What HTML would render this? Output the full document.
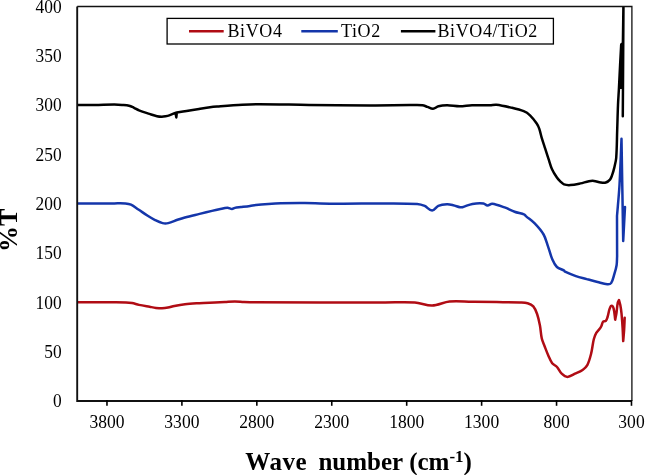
<!DOCTYPE html>
<html><head><meta charset="utf-8"><style>
html,body{margin:0;padding:0;background:#fff;}
body{width:645px;height:475px;overflow:hidden;}
svg{display:block;-webkit-font-smoothing:antialiased;will-change:transform;}
.t{font-family:"Liberation Serif",serif;font-size:18.5px;fill:#000;}
.lg{font-family:"Liberation Serif",serif;font-size:18px;fill:#000;letter-spacing:0.6px;}
.ax{font-family:"Liberation Serif",serif;font-size:25px;font-weight:bold;fill:#000;}
</style></head><body>
<svg width="645" height="475" viewBox="0 0 645 475" xmlns="http://www.w3.org/2000/svg">
<defs><clipPath id="c"><rect x="77" y="6.3" width="555" height="395"/></clipPath></defs>
<g clip-path="url(#c)" fill="none" stroke-linejoin="round" stroke-linecap="round" stroke-width="2.5">
<path d="M77.00,302.20 C89.40,302.20 101.80,302.15 114.20,302.20 C118.13,302.22 122.07,302.20 126.00,302.40 C128.01,302.50 130.02,302.72 132.00,303.10 C134.37,303.55 136.64,304.40 139.00,304.90 C142.51,305.64 146.06,306.18 149.60,306.80 C151.73,307.18 153.85,307.64 156.00,307.90 C157.99,308.14 160.00,308.35 162.00,308.30 C164.01,308.25 166.02,307.98 168.00,307.60 C170.17,307.18 172.24,306.33 174.40,305.90 C177.91,305.20 181.44,304.59 185.00,304.20 C189.72,303.69 194.46,303.48 199.20,303.20 C204.46,302.88 209.73,302.67 215.00,302.40 C218.33,302.23 221.67,302.07 225.00,301.90 C228.30,301.73 231.60,301.38 234.90,301.40 C237.94,301.42 240.96,301.86 244.00,302.00 C247.66,302.16 251.33,302.29 255.00,302.30 C298.33,302.42 341.67,302.37 385.00,302.40 C394.93,302.41 404.89,301.73 414.80,302.40 C420.65,302.80 426.24,305.74 432.10,305.60 C438.05,305.46 443.58,302.17 449.50,301.60 C456.90,300.89 464.37,301.72 471.80,301.80 C480.10,301.89 488.40,301.98 496.70,302.10 C504.47,302.21 512.24,302.22 520.00,302.50 C522.54,302.59 525.16,302.48 527.60,303.20 C529.69,303.81 531.86,304.76 533.30,306.40 C535.17,308.53 536.17,311.33 537.10,314.00 C538.38,317.66 539.17,321.49 539.90,325.30 C540.74,329.70 540.82,334.23 541.80,338.60 C542.39,341.23 543.63,343.68 544.60,346.20 C545.83,349.38 547.01,352.59 548.40,355.70 C549.54,358.26 550.50,360.97 552.20,363.20 C553.44,364.82 555.63,365.49 557.00,367.00 C558.83,369.02 559.72,371.82 561.70,373.70 C563.28,375.20 565.22,376.90 567.40,376.90 C570.15,376.90 572.50,374.85 575.00,373.70 C577.57,372.52 580.28,371.52 582.60,369.90 C584.44,368.62 586.25,367.08 587.30,365.10 C589.16,361.59 590.13,357.65 591.10,353.80 C592.30,349.00 592.61,344.00 593.80,339.20 C594.35,337.01 595.19,334.87 596.30,332.90 C597.11,331.46 598.52,330.43 599.50,329.10 C600.22,328.13 600.87,327.09 601.40,326.00 C602.11,324.55 602.14,322.72 603.20,321.50 C603.78,320.83 605.20,321.56 605.80,320.90 C606.87,319.71 607.22,318.02 607.70,316.50 C608.49,314.01 608.69,311.35 609.60,308.90 C610.04,307.73 610.45,305.80 611.70,305.80 C612.93,305.80 613.40,307.71 613.70,308.90 C614.59,312.42 614.70,316.10 615.20,319.70 C615.63,317.37 616.14,315.05 616.50,312.70 C617.01,309.34 617.14,305.93 617.80,302.60 C617.98,301.69 618.60,300.93 619.00,300.10 C619.43,301.77 619.98,303.41 620.30,305.10 C620.81,307.81 621.22,310.55 621.50,313.30 C621.99,318.16 622.30,323.03 622.60,327.90 C622.87,332.30 623.00,336.70 623.20,341.10 C623.50,337.53 623.87,333.97 624.10,330.40 C624.37,326.20 624.50,322.00 624.70,317.80" stroke="#b00c14"/>
<path d="M77.00,203.40 C89.40,203.40 101.80,203.37 114.20,203.40 C117.93,203.41 121.68,203.21 125.40,203.50 C127.30,203.65 129.27,203.90 131.00,204.70 C133.67,205.93 135.95,207.87 138.40,209.50 C141.52,211.57 144.54,213.79 147.70,215.80 C150.11,217.33 152.54,218.84 155.10,220.10 C157.52,221.28 159.98,222.50 162.60,223.10 C164.42,223.52 166.38,223.50 168.20,223.10 C171.41,222.39 174.38,220.85 177.50,219.80 C179.95,218.98 182.40,218.17 184.90,217.50 C189.77,216.20 194.70,215.09 199.60,213.90 C203.73,212.89 207.86,211.87 212.00,210.90 C214.43,210.33 216.86,209.79 219.30,209.30 C221.99,208.76 224.65,207.86 227.40,207.80 C228.98,207.76 230.42,208.98 232.00,209.00 C233.00,209.01 233.82,208.11 234.80,207.90 C236.84,207.47 238.93,207.37 241.00,207.10 C244.00,206.71 247.01,206.34 250.00,205.90 C252.01,205.61 253.98,205.12 256.00,204.90 C260.12,204.45 264.26,204.17 268.40,203.90 C272.53,203.63 276.66,203.39 280.80,203.30 C288.87,203.12 296.93,203.04 305.00,203.10 C315.57,203.18 326.13,203.66 336.70,203.70 C352.80,203.76 368.90,203.36 385.00,203.40 C395.73,203.43 406.49,203.23 417.20,203.90 C419.78,204.06 422.33,204.85 424.70,205.90 C427.36,207.08 429.20,210.50 432.10,210.50 C434.67,210.50 435.92,206.89 438.30,205.90 C441.02,204.77 444.05,204.44 447.00,204.30 C449.09,204.20 451.16,204.75 453.20,205.20 C455.51,205.71 457.69,206.70 460.00,207.20 C460.78,207.37 461.63,207.41 462.40,207.20 C465.79,206.30 468.95,204.52 472.40,203.90 C476.05,203.24 479.82,203.01 483.50,203.40 C485.00,203.56 485.99,205.45 487.50,205.50 C489.18,205.56 490.53,203.51 492.20,203.70 C496.49,204.18 500.54,205.95 504.60,207.40 C508.02,208.62 511.19,210.47 514.60,211.70 C517.83,212.87 521.30,213.35 524.50,214.60 C525.14,214.85 525.38,215.65 525.90,216.10 C528.79,218.59 532.06,220.65 534.70,223.40 C537.99,226.82 541.22,230.40 543.60,234.50 C545.71,238.13 546.61,242.34 548.00,246.30 C549.54,250.71 550.56,255.31 552.40,259.60 C553.54,262.25 554.79,265.03 556.90,267.00 C558.88,268.85 561.85,269.24 564.20,270.60 C564.59,270.83 564.59,271.51 565.00,271.70 C568.55,273.37 572.19,274.84 575.90,276.10 C579.44,277.31 583.09,278.12 586.70,279.10 C590.33,280.09 593.95,281.10 597.60,282.00 C600.82,282.80 604.00,283.93 607.30,284.20 C608.61,284.31 610.35,284.19 611.10,283.10 C612.95,280.42 613.44,277.01 614.40,273.90 C615.28,271.04 616.14,268.16 616.60,265.20 C617.05,262.33 616.93,259.40 617.10,256.50 C617.07,243.00 617.03,229.50 617.00,216.00 C617.83,205.67 618.90,195.35 619.50,185.00 C620.40,169.61 620.83,154.20 621.50,138.80 C622.07,172.87 622.63,206.93 623.20,241.00 C623.80,229.67 624.40,218.33 625.00,207.00" stroke="#1436aa"/>
<path d="M77.00,105.10 C83.00,105.07 89.00,105.10 95.00,105.00 C101.40,104.90 107.80,104.52 114.20,104.50 C116.80,104.49 119.40,104.69 122.00,104.90 C124.37,105.09 126.78,105.14 129.10,105.70 C130.83,106.12 132.39,107.04 134.00,107.80 C135.70,108.61 137.25,109.71 139.00,110.40 C142.40,111.75 145.92,112.78 149.40,113.90 C151.92,114.71 154.42,115.62 157.00,116.20 C158.57,116.55 160.19,116.68 161.80,116.70 C163.04,116.71 164.28,116.51 165.50,116.30 C166.78,116.08 168.07,115.83 169.30,115.40 C171.42,114.66 173.43,113.67 175.50,112.80 C175.77,114.33 176.03,115.87 176.30,117.40 C176.47,115.80 176.63,114.20 176.80,112.60 C180.07,112.03 183.33,111.45 186.60,110.90 C190.73,110.21 194.86,109.55 199.00,108.90 C202.66,108.32 206.32,107.69 210.00,107.20 C212.32,106.89 214.66,106.68 217.00,106.50 C225.43,105.85 233.86,105.16 242.30,104.70 C248.06,104.39 253.83,104.18 259.60,104.20 C276.07,104.25 292.53,104.72 309.00,104.90 C329.33,105.12 349.67,105.36 370.00,105.40 C383.33,105.43 396.67,105.15 410.00,105.10 C414.13,105.08 418.29,104.77 422.40,105.20 C424.15,105.38 425.73,106.33 427.40,106.90 C429.27,107.53 431.03,108.92 433.00,108.80 C435.02,108.67 436.53,106.69 438.50,106.20 C441.33,105.50 444.28,105.29 447.20,105.30 C451.35,105.32 455.45,106.30 459.60,106.30 C463.75,106.30 467.86,105.44 472.00,105.30 C478.00,105.10 484.00,105.42 490.00,105.30 C492.11,105.26 494.21,104.57 496.30,104.80 C501.26,105.34 506.14,106.47 511.00,107.60 C515.28,108.60 519.62,109.55 523.70,111.20 C526.02,112.14 528.18,113.58 530.00,115.30 C532.56,117.73 534.70,120.59 536.70,123.50 C537.82,125.12 538.66,126.94 539.30,128.80 C540.36,131.86 540.88,135.09 541.80,138.20 C542.85,141.73 544.06,145.20 545.20,148.70 C546.30,152.07 547.38,155.44 548.50,158.80 C549.62,162.17 550.44,165.66 551.90,168.90 C553.26,171.92 555.04,174.75 556.90,177.50 C557.92,179.01 559.20,180.33 560.50,181.60 C561.57,182.64 562.59,183.90 564.00,184.40 C566.02,185.12 568.26,185.23 570.40,185.10 C573.81,184.89 577.16,184.10 580.50,183.40 C583.33,182.80 586.05,181.73 588.90,181.20 C590.57,180.89 592.31,180.71 594.00,180.90 C596.28,181.15 598.42,182.19 600.70,182.50 C602.38,182.73 604.18,183.01 605.80,182.50 C607.42,181.99 608.89,180.89 610.00,179.60 C611.06,178.37 611.55,176.73 612.10,175.20 C612.99,172.72 613.69,170.17 614.30,167.60 C615.06,164.43 615.95,161.25 616.20,158.00 C616.92,148.69 616.88,139.33 617.20,130.00 C617.48,121.67 617.65,113.33 618.00,105.00 C618.22,99.66 618.62,94.33 618.90,89.00 C619.32,81.00 619.69,73.00 620.10,65.00 C620.45,58.17 620.83,51.33 621.20,44.50 C621.77,44.00 622.33,43.50 622.90,43.00 C623.10,28.67 623.30,14.33 623.50,0.00 C623.27,38.77 623.03,77.53 622.80,116.30" stroke="#000"/>
<polygon points="619.3,89 620.4,65 621.5,44.5 623,44.5 622.6,89" fill="#000" stroke="none"/>
</g>
<path d="M77.2,6.5 H631.9 V401" fill="none" stroke="#111" stroke-width="1.3"/>
<path d="M77.2,6.5 V401 H632" fill="none" stroke="#111" stroke-width="1.9"/>
<line x1="106.97" y1="400" x2="106.97" y2="405.8" stroke="#000" stroke-width="1.6"/>
<text transform="translate(106.97,428) scale(0.95,1)" text-anchor="middle" class="t">3800</text>
<line x1="181.90" y1="400" x2="181.90" y2="405.8" stroke="#000" stroke-width="1.6"/>
<text transform="translate(181.90,428) scale(0.95,1)" text-anchor="middle" class="t">3300</text>
<line x1="256.83" y1="400" x2="256.83" y2="405.8" stroke="#000" stroke-width="1.6"/>
<text transform="translate(256.83,428) scale(0.95,1)" text-anchor="middle" class="t">2800</text>
<line x1="331.76" y1="400" x2="331.76" y2="405.8" stroke="#000" stroke-width="1.6"/>
<text transform="translate(331.76,428) scale(0.95,1)" text-anchor="middle" class="t">2300</text>
<line x1="406.69" y1="400" x2="406.69" y2="405.8" stroke="#000" stroke-width="1.6"/>
<text transform="translate(406.69,428) scale(0.95,1)" text-anchor="middle" class="t">1800</text>
<line x1="481.62" y1="400" x2="481.62" y2="405.8" stroke="#000" stroke-width="1.6"/>
<text transform="translate(481.62,428) scale(0.95,1)" text-anchor="middle" class="t">1300</text>
<line x1="556.55" y1="400" x2="556.55" y2="405.8" stroke="#000" stroke-width="1.6"/>
<text transform="translate(556.55,428) scale(0.95,1)" text-anchor="middle" class="t">800</text>
<line x1="631.48" y1="400" x2="631.48" y2="405.8" stroke="#000" stroke-width="1.6"/>
<text transform="translate(631.48,428) scale(0.95,1)" text-anchor="middle" class="t">300</text>
<text transform="translate(61.6,407.30) scale(0.94,1)" text-anchor="end" class="t">0</text>
<text transform="translate(61.6,357.99) scale(0.94,1)" text-anchor="end" class="t">50</text>
<text transform="translate(61.6,308.68) scale(0.94,1)" text-anchor="end" class="t">100</text>
<text transform="translate(61.6,259.36) scale(0.94,1)" text-anchor="end" class="t">150</text>
<text transform="translate(61.6,210.05) scale(0.94,1)" text-anchor="end" class="t">200</text>
<text transform="translate(61.6,160.74) scale(0.94,1)" text-anchor="end" class="t">250</text>
<text transform="translate(61.6,111.43) scale(0.94,1)" text-anchor="end" class="t">300</text>
<text transform="translate(61.6,62.11) scale(0.94,1)" text-anchor="end" class="t">350</text>
<text transform="translate(61.6,12.80) scale(0.94,1)" text-anchor="end" class="t">400</text>

<rect x="167.1" y="18.4" width="386.3" height="25.6" fill="#fff" stroke="#000" stroke-width="1.3"/>
<line x1="189" y1="31.3" x2="223.7" y2="31.3" stroke="#b00c14" stroke-width="2.5"/>
<text x="227.5" y="36.8" class="lg">BiVO4</text>
<line x1="301.3" y1="31.3" x2="337.8" y2="31.3" stroke="#1436aa" stroke-width="2.5"/>
<text x="341" y="36.8" class="lg">TiO2</text>
<line x1="400.9" y1="31.2" x2="435.4" y2="31.2" stroke="#000" stroke-width="2.5"/>
<text x="437.5" y="36.8" class="lg">BiVO4/TiO2</text>
<text y="469.6" class="ax"><tspan x="245.3" letter-spacing="0.5">Wave</tspan><tspan x="318.4">number</tspan><tspan x="409.2">(cm</tspan><tspan font-size="17" dy="-7.5">-1</tspan><tspan dy="7.5">)</tspan></text>
<text transform="translate(17,230.4) rotate(-90)" text-anchor="middle" class="ax" style="font-size:26px">%T</text>
</svg>
</body></html>
